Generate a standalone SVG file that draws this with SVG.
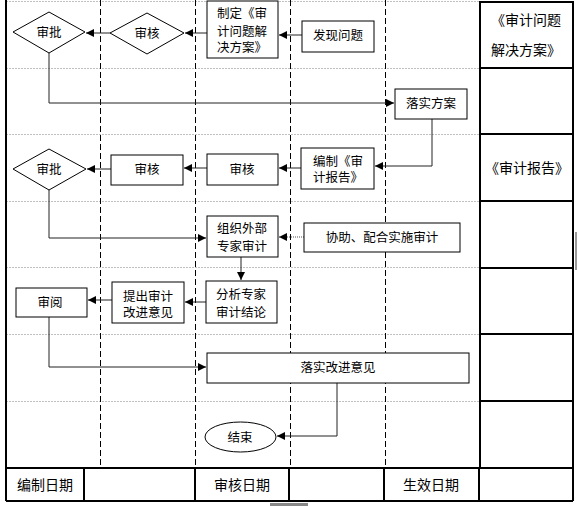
<svg xmlns="http://www.w3.org/2000/svg" width="577" height="506" viewBox="0 0 577 506">
<defs>
<style>
text{font-family:"Liberation Sans","Noto Sans CJK SC",sans-serif;font-size:12.5px;fill:#000;text-anchor:middle;dominant-baseline:central}
.big{font-size:14px}
.node{fill:#fff;stroke:#000;stroke-width:1}
.grid{stroke:#c0c0c0;stroke-width:1;stroke-dasharray:2 1;fill:none;shape-rendering:crispEdges}
.lane{stroke:#000;stroke-width:1;stroke-dasharray:6 3;fill:none;shape-rendering:crispEdges}
.frame{stroke:#000;stroke-width:1.3;fill:none;shape-rendering:crispEdges}
.conn{stroke:#222;stroke-width:1;fill:none}
.dot{stroke:#555;stroke-width:1;stroke-dasharray:1 1;fill:none}
</style>
<marker id="arr" viewBox="0 0 8 8" refX="8" refY="4" markerWidth="8" markerHeight="8" markerUnits="userSpaceOnUse" orient="auto">
<path d="M0,0 L8,4 L0,8 z" fill="#000"/>
</marker>
</defs>
<rect x="0" y="0" width="577" height="506" fill="#fff"/>
<g id="grid">
<line class="grid" x1="6" y1="1" x2="480" y2="1"/>
<line class="grid" x1="6" y1="68" x2="480" y2="68"/>
<line class="grid" x1="6" y1="134" x2="480" y2="134"/>
<line class="grid" x1="6" y1="201" x2="480" y2="201"/>
<line class="grid" x1="6" y1="267" x2="480" y2="267"/>
<line class="grid" x1="6" y1="334" x2="480" y2="334"/>
<line class="grid" x1="6" y1="401" x2="480" y2="401"/>
<line class="lane" x1="100.5" y1="0" x2="100.5" y2="468"/>
<line class="lane" x1="195.5" y1="0" x2="195.5" y2="468"/>
<line class="lane" x1="290.5" y1="0" x2="290.5" y2="468"/>
<line class="lane" x1="385.5" y1="0" x2="385.5" y2="468"/>
<line class="frame" x1="6" y1="0" x2="6" y2="501"/>
<line class="frame" x1="6" y1="468" x2="573" y2="468"/>
<line class="frame" x1="6" y1="501" x2="573" y2="501"/>
<line class="frame" x1="84" y1="468" x2="84" y2="501"/>
<line class="frame" x1="195" y1="468" x2="195" y2="501"/>
<line class="frame" x1="289" y1="468" x2="289" y2="501"/>
<line class="frame" x1="384" y1="468" x2="384" y2="501"/>
<line class="frame" x1="479" y1="468" x2="479" y2="501"/>
<line class="frame" x1="573" y1="468" x2="573" y2="501"/>
<rect class="frame" x="480" y="2" width="93" height="466"/>
<line class="frame" x1="480" y1="68" x2="573" y2="68"/>
<line class="frame" x1="480" y1="134" x2="573" y2="134"/>
<line class="frame" x1="480" y1="201" x2="573" y2="201"/>
<line class="frame" x1="480" y1="268" x2="573" y2="268"/>
<line class="frame" x1="480" y1="334" x2="573" y2="334"/>
<line class="frame" x1="480" y1="401" x2="573" y2="401"/>
<rect x="270" y="503" width="38" height="3" fill="#888"/>
<rect x="575" y="232" width="2" height="38" fill="#999"/>
</g>
<g id="labels">
<text class="big" x="526" y="20">《审计问题</text>
<text class="big" x="526" y="50">解决方案》</text>
<text class="big" x="527" y="168">《审计报告》</text>
<text class="big" x="45" y="485">编制日期</text>
<text class="big" x="242" y="485">审核日期</text>
<text class="big" x="431" y="485">生效日期</text>
</g>
<g id="connectors">
<line class="conn" x1="110" y1="33" x2="86" y2="33" marker-end="url(#arr)"/>
<line class="conn" x1="207" y1="33" x2="185" y2="33" marker-end="url(#arr)"/>
<line class="conn" x1="302" y1="35" x2="279" y2="35" marker-end="url(#arr)"/>
<polyline class="conn" points="49,53 49,103 394,103" marker-end="url(#arr)"/>
<polyline class="conn" points="432,119 432,166 375,166" marker-end="url(#arr)"/>
<line class="conn" x1="301" y1="168" x2="279" y2="168" marker-end="url(#arr)"/>
<line class="conn" x1="207" y1="168" x2="184" y2="168" marker-end="url(#arr)"/>
<line class="conn" x1="111" y1="169" x2="87" y2="169" marker-end="url(#arr)"/>
<polyline class="conn" points="49,190 49,238 206,238" marker-end="url(#arr)"/>
<line class="dot" x1="304" y1="237" x2="279" y2="237" marker-end="url(#arr)"/>
<line class="conn" x1="241" y1="257" x2="241" y2="280" marker-end="url(#arr)"/>
<line class="conn" x1="206" y1="302" x2="185" y2="302" marker-end="url(#arr)"/>
<line class="conn" x1="112" y1="300" x2="88" y2="300" marker-end="url(#arr)"/>
<polyline class="conn" points="49,317 49,367 206,367" marker-end="url(#arr)"/>
<polyline class="conn" points="337,383 337,436 277,436" marker-end="url(#arr)"/>
</g>
<g id="n_shenpi1"><polygon class="node" points="13,32 49,12 85,32 49,53"/><text x="49" y="33">审批</text></g>
<g id="n_shenhe1"><polygon class="node" points="110,33 147,13 184,33 147,54"/><text x="147" y="34">审核</text></g>
<g id="n_zhiding"><rect class="node" x="207" y="1" width="71" height="57"/><text x="242" y="14">制定《审</text><text x="242" y="32">计问题解</text><text x="242" y="48">决方案》</text></g>
<g id="n_faxian"><rect class="node" x="302" y="21" width="72" height="31"/><text x="338" y="36">发现问题</text></g>
<g id="n_luoshi"><rect class="node" x="395" y="89" width="72" height="30"/><text x="431" y="104">落实方案</text></g>
<g id="n_shenpi2"><polygon class="node" points="13,169 49,149 86,169 49,190"/><text x="49" y="170">审批</text></g>
<g id="n_shenhe2"><rect class="node" x="111" y="155" width="72" height="30"/><text x="147" y="170">审核</text></g>
<g id="n_shenhe3"><rect class="node" x="207" y="154" width="71" height="31"/><text x="242" y="170">审核</text></g>
<g id="n_bianzhi"><rect class="node" x="301" y="148" width="73" height="41"/><text x="338" y="162">编制《审</text><text x="338" y="178">计报告》</text></g>
<g id="n_zuzhi"><rect class="node" x="207" y="216" width="71" height="41"/><text x="242" y="229">组织外部</text><text x="242" y="247">专家审计</text></g>
<g id="n_xiezhu"><rect class="node" x="304" y="223" width="156" height="29"/><text x="382" y="238">协助、配合实施审计</text></g>
<g id="n_fenxi"><rect class="node" x="206" y="281" width="71" height="42"/><text x="241" y="295">分析专家</text><text x="241" y="313">审计结论</text></g>
<g id="n_tichu"><rect class="node" x="112" y="282" width="72" height="41"/><text x="148" y="297">提出审计</text><text x="148" y="313">改进意见</text></g>
<g id="n_shenyue"><rect class="node" x="16" y="288" width="71" height="29"/><text x="50" y="303">审阅</text></g>
<g id="n_luoshigaijin"><rect class="node" x="207" y="353" width="262" height="30"/><text x="338" y="368">落实改进意见</text></g>
<g id="n_end"><ellipse class="node" cx="240.5" cy="437" rx="35.5" ry="15"/><text x="240" y="438">结束</text></g>
</svg>
